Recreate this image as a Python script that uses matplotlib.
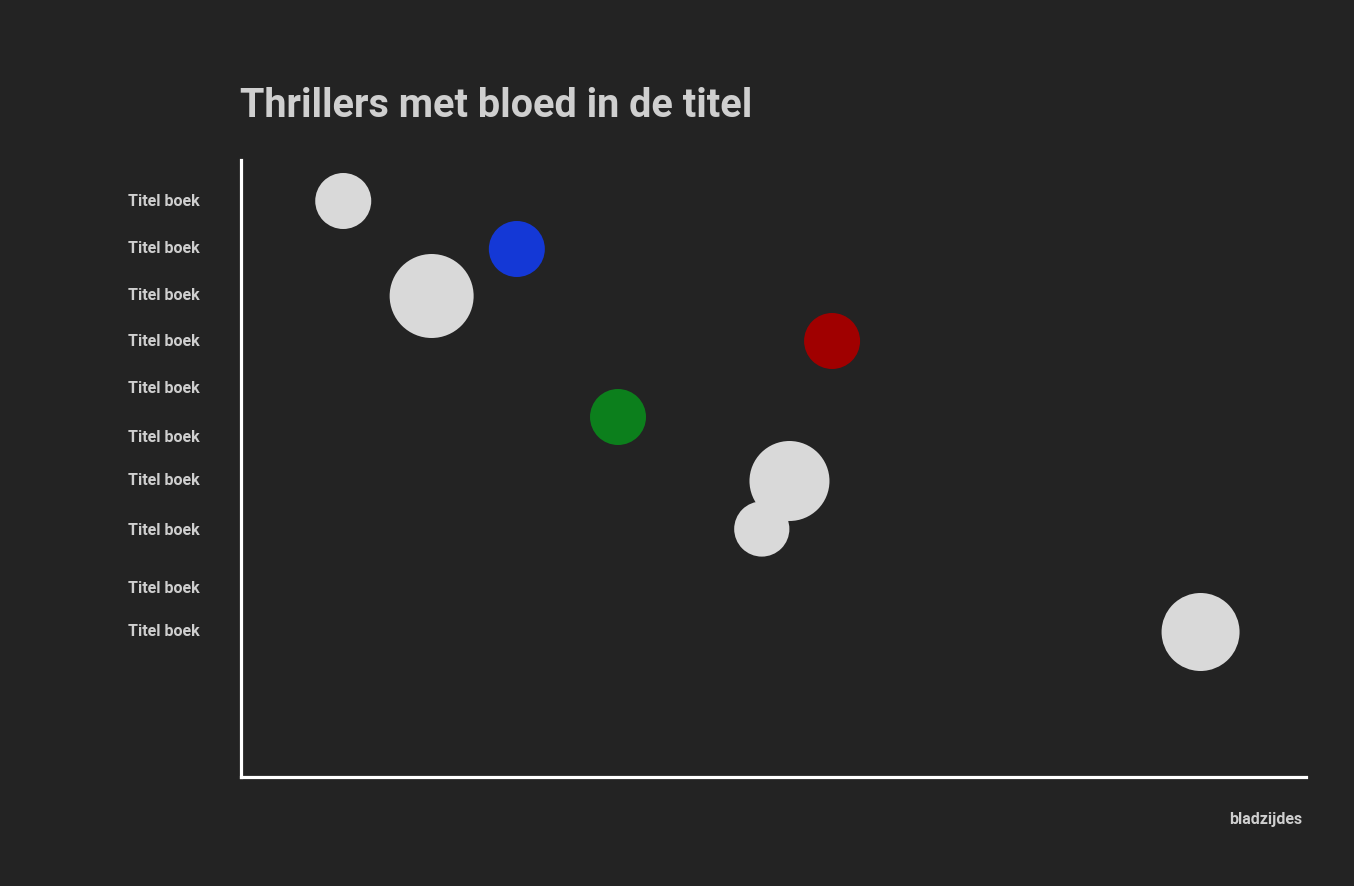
import matplotlib.pyplot as plt

# data
titels = ["Titel boek"] * 10
titel_pos = [40, 87, 134, 180, 227, 276, 319, 369, 427, 470]   # plek van de labels op de y-as

bladzijdes = [96, 259, 179, 555, 354, 515, 489, 901]          # x (bladzijdes, schaal 0-1000)
rij = [41, 89, 136, 181, 257, 321, 369, 472]                   # y
grootte = [1626, 1626, 3658, 1626, 1626, 3318, 1580, 3154]    # bolgrootte
kleuren = ["#d9d9d9", "#1438d6", "#d9d9d9", "#a00000", "#0c7f1c", "#d9d9d9", "#d9d9d9", "#d9d9d9"]

bg = "#232323"
tekst = "#cfcfcf"
plt.rcParams['font.family'] = ['Roboto', 'DejaVu Sans']

fig = plt.figure(figsize=(13.54, 8.86), dpi=100, facecolor=bg)
ax = fig.add_axes([241/1354, 1-777/886, (1306-241)/1354, (777-160)/886])
ax.set_facecolor(bg)

# de bollen
ax.scatter(bladzijdes, rij, s=grootte, c=kleuren, linewidths=0, zorder=3)

ax.set_xlim(0, 1000)
ax.set_ylim(617, 0)

ax.set_yticks(titel_pos)
ax.set_yticklabels(titels, fontsize=11.5, fontweight='bold', color=tekst)
ax.tick_params(axis='y', length=0, pad=30)
ax.set_xticks([])

for s in ['top', 'right']:
    ax.spines[s].set_visible(False)
for s in ['left', 'bottom']:
    ax.spines[s].set_color('white')
    ax.spines[s].set_linewidth(2.3)

fig.text(240/1354, 1-117/886, "Thrillers met bloed in de titel", fontsize=28.5, fontweight='bold',
         color=tekst, ha='left', va='baseline')
fig.text(1302/1354, 1-824/886, "bladzijdes", fontsize=11.5, fontweight='bold',
         color=tekst, ha='right', va='baseline')

plt.savefig("out.png", dpi=100, facecolor=bg)
